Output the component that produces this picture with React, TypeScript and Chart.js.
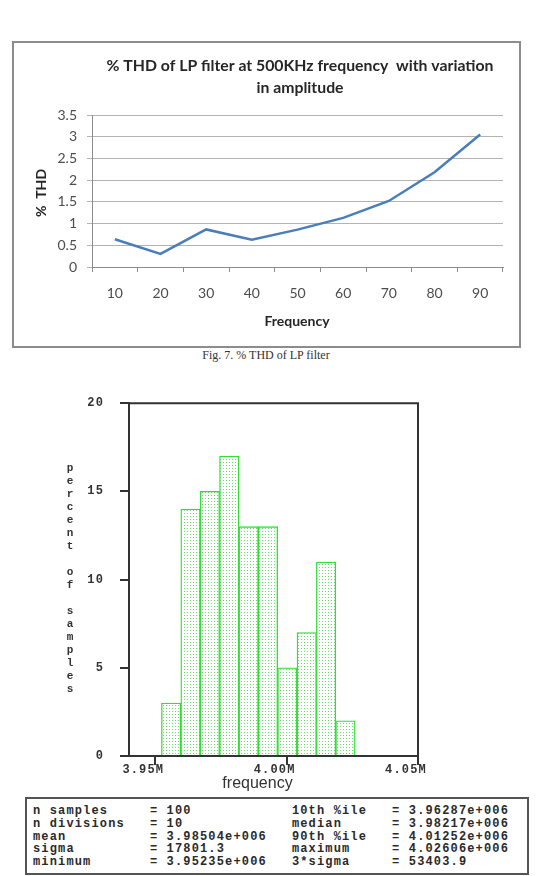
import React, { useEffect, useRef } from "react";
import { Chart, registerables } from "chart.js";
Chart.register(...registerables);

// ---------- Fig. 7 line chart data ----------
const thdCategories = ["10", "20", "30", "40", "50", "60", "70", "80", "90"];
const thdValues = [0.64, 0.3, 0.865, 0.63, 0.86, 1.13, 1.52, 2.18, 3.05];
const thdTitleLines = ["% THD of LP filter at 500KHz frequency  with variation", "in amplitude"];
const thdXTitle = "Frequency";
const thdYTitle = "%  THD";
const thdYTicks = [0, 0.5, 1, 1.5, 2, 2.5, 3, 3.5];
const thdYTickLabels = ["0", "0.5", "1", "1.5", "2", "2.5", "3", "3.5"];
const figCaption = "Fig. 7. % THD of LP filter";

// ---------- histogram data ----------
const histBinEdges = [3.95235, 3.95972, 3.96709, 3.97446, 3.98184, 3.98921, 3.99658, 4.00395, 4.01132, 4.01869, 4.02606];
const histPercents = [3, 14, 15, 17, 13, 13, 5, 7, 11, 2];
const histXTicks = [3.95, 4.0, 4.05];
const histXTickLabels = ["3.95M", "4.00M", "4.05M"];
const histYTicks = [0, 5, 10, 15, 20];
const histXTitle = "frequency";
const histYTitle = "percent of samples";

// ---------- statistics table ----------
const statsLeftLabels = ["n samples", "n divisions", "mean", "sigma", "minimum"];
const statsLeftValues = ["= 100", "= 10", "= 3.98504e+006", "= 17801.3", "= 3.95235e+006"];
const statsRightLabels = ["10th %ile", "median", "90th %ile", "maximum", "3*sigma"];
const statsRightValues = ["= 3.96287e+006", "= 3.98217e+006", "= 4.01252e+006", "= 4.02606e+006", "= 53403.9"];

function ThdChart() {
  const ref = useRef<HTMLCanvasElement>(null);
  useEffect(() => {
    const textPlugin = {
      id: "thdText",
      afterDraw(chart: any) {
        const ctx = chart.ctx;
        ctx.save();
        ctx.fillStyle = "#262626";
        ctx.textAlign = "center";
        ctx.textBaseline = "middle";
        ctx.font = "bold 15.8px Lato";
        ctx.fillText(thdTitleLines[0], 286, 23);
        ctx.fillText(thdTitleLines[1], 286, 44.5);
        ctx.font = "bold 14px Lato";
        ctx.fillText(thdXTitle, 283, 278);
        ctx.translate(27, 150);
        ctx.rotate(-Math.PI / 2);
        ctx.fillText(thdYTitle, 0, 0);
        ctx.restore();
      },
    };
    const chart = new Chart(ref.current as HTMLCanvasElement, {
      type: "line",
      data: {
        labels: thdCategories,
        datasets: [
          {
            data: thdValues,
            borderColor: "#4a7ebb",
            borderWidth: 2.5,
            pointRadius: 0,
            tension: 0,
            fill: false,
          },
        ],
      },
      options: {
        responsive: false,
        animation: false,
        layout: { padding: { top: 72, right: 16, left: 0, bottom: 0 } },
        plugins: { legend: { display: false }, tooltip: { enabled: false }, title: { display: false } },
        scales: {
          x: {
            offset: true,
            grid: { offset: true, drawOnChartArea: false, drawTicks: true, tickLength: 5, color: "#8c8c8c" },
            border: { color: "#8c8c8c", width: 1 },
            ticks: { padding: 13, font: { family: "Lato", size: 14 }, color: "#4d4d4d", maxRotation: 0 },
            afterFit: (s: any) => {
              s.height = 79;
            },
          },
          y: {
            min: 0,
            max: 3.5,
            afterBuildTicks: (s: any) => {
              s.ticks = thdYTicks.map((v) => ({ value: v }));
            },
            ticks: {
              padding: 10,
              font: { family: "Lato", size: 14 },
              color: "#4d4d4d",
              callback: (_v: any, i: number) => thdYTickLabels[i],
            },
            grid: { color: "#b3b3b3", tickLength: 5 },
            border: { color: "#8c8c8c", width: 1 },
            afterFit: (s: any) => {
              s.width = 78;
            },
          },
        },
      },
      plugins: [textPlugin],
    } as any);
    return () => chart.destroy();
  }, []);
  return <canvas ref={ref} width={505} height={303} style={{ display: "block" }} />;
}

function makeDotPattern(ctx: CanvasRenderingContext2D) {
  const c = document.createElement("canvas");
  c.width = 3;
  c.height = 3;
  const g = c.getContext("2d") as CanvasRenderingContext2D;
  g.fillStyle = "#ffffff";
  g.fillRect(0, 0, 3, 3);
  g.fillStyle = "#6edc6e";
  g.fillRect(1, 1, 1, 1);
  return ctx.createPattern(c, "repeat");
}

function HistChart() {
  const ref = useRef<HTMLCanvasElement>(null);
  useEffect(() => {
    const canvas = ref.current as HTMLCanvasElement;
    const pattern = makeDotPattern(canvas.getContext("2d") as CanvasRenderingContext2D);
    const histPlugin = {
      id: "histDecor",
      beforeDraw(chart: any) {
        (chart.ctx as any).letterSpacing = "1.15px";
      },
      afterDraw(chart: any) {
        const ctx = chart.ctx;
        const a = chart.chartArea;
        ctx.save();
        ctx.strokeStyle = "#333333";
        ctx.lineWidth = 2;
        ctx.beginPath();
        ctx.moveTo(a.left, a.top);
        ctx.lineTo(a.right, a.top);
        ctx.lineTo(a.right, a.bottom);
        ctx.stroke();
        ctx.fillStyle = "#333333";
        ctx.textAlign = "center";
        ctx.textBaseline = "middle";
        (ctx as any).letterSpacing = "0px";
        ctx.font = "bold 11px 'Liberation Mono'";
        const chars = histYTitle.split("");
        chars.forEach((ch, k) => {
          if (ch !== " ") ctx.fillText(ch, 70, 88 + 13 * k);
        });
        ctx.font = "16px 'Liberation Sans'";
        ctx.fillText(histXTitle, 257.5, 404);
        ctx.restore();
      },
    };
    const chart = new Chart(canvas, {
      type: "bar",
      data: {
        datasets: [
          {
            data: histPercents.map((v, i) => ({ x: (histBinEdges[i] + histBinEdges[i + 1]) / 2, y: v })),
            backgroundColor: pattern,
            borderColor: "#2fe02f",
            borderWidth: 1.3,
            barPercentage: 1,
            categoryPercentage: 1,
            borderSkipped: "bottom",
          },
        ],
      },
      options: {
        responsive: false,
        animation: false,
        layout: { padding: { top: 10, right: 119, left: 0, bottom: 0 } },
        plugins: { legend: { display: false }, tooltip: { enabled: false } },
        scales: {
          x: {
            type: "linear",
            offset: false,
            min: 3.94,
            max: 4.05,
            afterBuildTicks: (s: any) => {
              s.ticks = histXTicks.map((v) => ({ value: v }));
            },
            ticks: {
              callback: (_v: any, i: number) => histXTickLabels[i],
              labelOffset: -12,
              padding: -2,
              autoSkip: false,
              maxRotation: 0,
              font: { family: "Liberation Mono", size: 12, weight: "bold" },
              color: "#333333",
            },
            grid: { offset: false, drawOnChartArea: false, tickLength: 9, color: "#333333", lineWidth: 2 },
            border: { color: "#333333", width: 2 },
            afterFit: (s: any) => {
              s.height = 39;
            },
          },
          y: {
            min: 0,
            max: 20,
            afterBuildTicks: (s: any) => {
              s.ticks = histYTicks.map((v) => ({ value: v }));
            },
            ticks: {
              padding: 16,
              font: { family: "Liberation Mono", size: 12, weight: "bold" },
              color: "#333333",
            },
            grid: { drawOnChartArea: false, tickLength: 9, color: "#333333", lineWidth: 2 },
            border: { color: "#333333", width: 2 },
            afterFit: (s: any) => {
              s.width = 129;
            },
          },
        },
      },
      plugins: [histPlugin],
    } as any);
    return () => chart.destroy();
  }, []);
  return <canvas ref={ref} width={537} height={415} style={{ display: "block" }} />;
}

export default function App() {
  const statsText = statsLeftLabels
    .map(
      (l, i) =>
        l.padEnd(14, " ") +
        statsLeftValues[i].padEnd(17, " ") +
        statsRightLabels[i].padEnd(12, " ") +
        statsRightValues[i]
    )
    .join("\n");
  return (
    <div style={{ position: "absolute", left: 0, top: 0, width: 537, height: 876, background: "#ffffff" }}>
      <div
        style={{
          position: "absolute",
          left: 12,
          top: 41,
          width: 509,
          height: 307,
          border: "2px solid #8c8c8c",
          boxSizing: "border-box",
        }}
      >
        <ThdChart />
      </div>
      <div
        style={{
          position: "absolute",
          left: 0,
          top: 347,
          width: 532,
          textAlign: "center",
          fontFamily: "'Liberation Serif', serif",
          fontSize: 12,
          lineHeight: "16px",
          color: "#333333",
        }}
      >
        {figCaption}
      </div>
      <div style={{ position: "absolute", left: 0, top: 380 }}>
        <HistChart />
      </div>
      <div
        style={{
          position: "absolute",
          left: 25,
          top: 797,
          width: 504,
          height: 78,
          border: "2px solid #555555",
          boxSizing: "border-box",
          padding: "6px 0 0 6px",
        }}
      >
        <pre
          style={{
            margin: 0,
            fontFamily: "'Liberation Mono', monospace",
            fontWeight: "bold",
            fontSize: 12,
            letterSpacing: "1.15px",
            lineHeight: "12.8px",
            color: "#2a2a2a",
          }}
        >
          {statsText}
        </pre>
      </div>
    </div>
  );
}
